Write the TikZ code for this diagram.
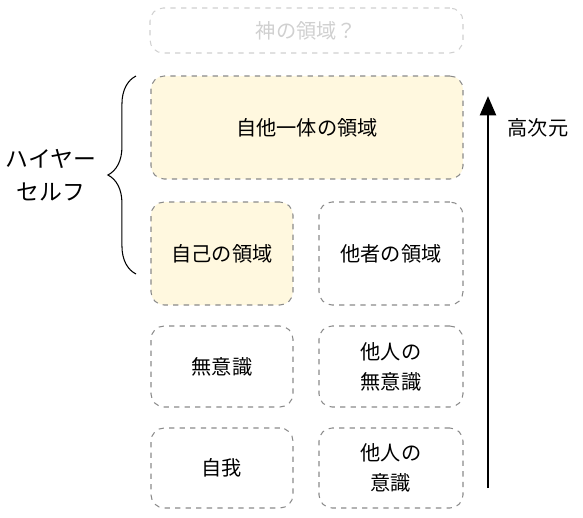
\documentclass[tikz,border=0pt]{standalone}
\usepackage{fontspec}
\setmainfont{Noto Sans CJK JP}
\usetikzlibrary{arrows.meta,decorations.pathreplacing}
\definecolor{cream}{HTML}{FFF8DF}
\definecolor{boxgray}{HTML}{8A8A8A}
\definecolor{faint}{HTML}{D0D0D0}
\tikzset{
  area/.style={draw=boxgray, dashed, rounded corners=7.5pt, line width=0.6pt,
    align=center, font=\fontsize{11.5}{17}\selectfont, inner sep=0pt},
  godarea/.style={area, draw=faint, text=faint},
}
\begin{document}
\begin{tikzpicture}[x=0.02cm, y=-0.02cm, font=\fontsize{11.5}{17}\selectfont]
  \useasboundingbox (0,0) rectangle (583,518);
  % areas
  \node[godarea, minimum width=313*0.02cm, minimum height=45*0.02cm] (god) at (306.5,30.5) {神の領域？};
  \node[area, fill=cream, minimum width=312*0.02cm, minimum height=103*0.02cm] (oneness) at (307,127.5) {自他一体の領域};
  \node[area, fill=cream, minimum width=142*0.02cm, minimum height=103*0.02cm] (self) at (222,253.5) {自己の領域};
  \node[area, minimum width=144*0.02cm, minimum height=103*0.02cm] (others) at (391,253.5) {他者の領域};
  \node[area, minimum width=142*0.02cm, minimum height=81*0.02cm] (uncon) at (222,366.5) {無意識};
  \node[area, minimum width=144*0.02cm, minimum height=81*0.02cm] (otheruncon) at (391,366.5) {他人の\\無意識};
  \node[area, minimum width=142*0.02cm, minimum height=80*0.02cm] (ego) at (222,468) {自我};
  \node[area, minimum width=144*0.02cm, minimum height=80*0.02cm] (othercon) at (391,468) {他人の\\意識};
  % higher dimension
  \coordinate (low) at (488,488);
  \coordinate (high) at (488,96);
  \draw[line width=1.6pt, -{Triangle[length=11pt, width=9pt]}] (low) -- (high);
  \node (dim) at (538,128) {高次元};
  % higher self
  \coordinate (brbot) at (136,274);
  \coordinate (brtop) at (136,76);
  \draw[line width=0.6pt, decorate, decoration={brace, amplitude=16pt, aspect=0.5}] (brbot) -- (brtop);
  \node[align=center, font=\fontsize{13}{19}\selectfont] (higher) at (51,175) {ハイヤー\\セルフ};
\end{tikzpicture}
\end{document}
